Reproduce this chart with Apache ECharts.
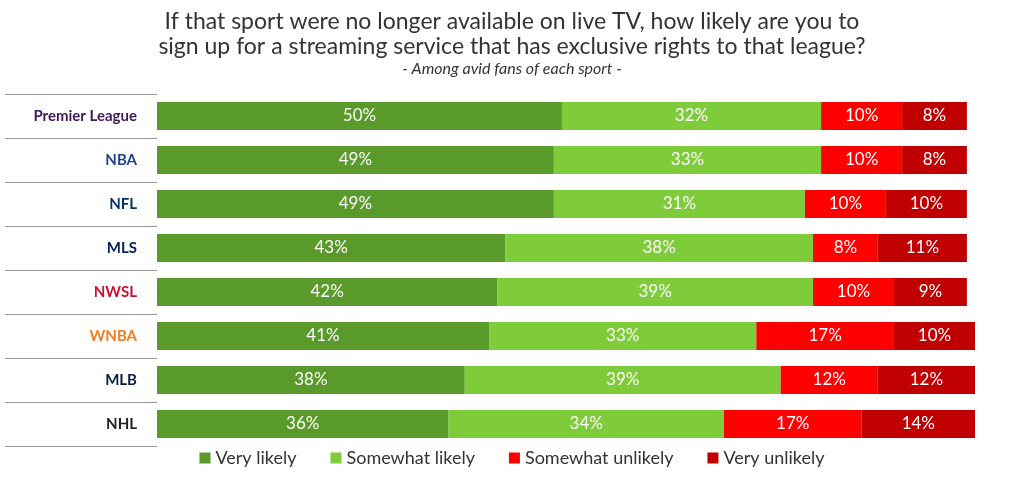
<!DOCTYPE html><html><head><meta charset="utf-8"><script src="https://cdn.jsdelivr.net/npm/echarts@6/dist/echarts.min.js"></script></head><body style="margin:0"><div id="c" style="width:1024px;height:486px"></div><script>
const categories=["Premier League","NBA","NFL","MLS","NWSL","WNBA","MLB","NHL"];
const veryLikely=[50,49,49,43,42,41,38,36];
const somewhatLikely=[32,33,31,38,39,33,39,34];
const somewhatUnlikely=[10,10,10,8,10,17,12,17];
const veryUnlikely=[8,8,10,11,9,10,12,14];
const labelColors={"Premier League":"#3d185c","NBA":"#1d428a","NFL":"#013369","MLS":"#001f5b","NWSL":"#c8102e","WNBA":"#f57b20","MLB":"#041e42","NHL":"#222"};
const chart=echarts.init(document.getElementById('c'));
const mk=(name,data,color)=>({name,type:'bar',stack:'a',data,barWidth:28,itemStyle:{color},
 label:{show:true,position:'inside',color:'#fff',fontSize:17,fontFamily:'Lato',formatter:'{c}%'}});
chart.setOption({
 title:{text:'If that sport were no longer available on live TV, how likely are you to\nsign up for a streaming service that has exclusive rights to that league?',
  subtext:'- Among avid fans of each sport -',left:'center',top:4,itemGap:2,
  textStyle:{fontSize:23,fontWeight:'normal',color:'#333',fontFamily:'Lato',lineHeight:25},
  subtextStyle:{fontSize:16,fontStyle:'italic',color:'#333',fontFamily:'Lato'}},
 legend:{bottom:14,left:'center',itemWidth:11,itemHeight:11,itemGap:34,icon:'rect',
  textStyle:{fontSize:18,color:'#333',fontFamily:'Lato'}},
 grid:{left:157,right:49,top:94,bottom:40},
 xAxis:{type:'value',max:101,show:false},
 yAxis:{type:'category',data:categories,inverse:true,axisLine:{show:false},
  axisTick:{show:true,length:152,lineStyle:{color:'#999'}},
  axisLabel:{margin:20,fontSize:15,fontWeight:'bold',fontFamily:'Lato',
   formatter:v=>'{'+categories.indexOf(v)+'|'+v+'}',
   rich:Object.fromEntries(categories.map((c,i)=>[i,{color:labelColors[c],fontWeight:'bold',fontSize:15}]))}},
 series:[mk('Very likely',veryLikely,'#5a9a2a'),mk('Somewhat likely',somewhatLikely,'#7fcc3a'),
  mk('Somewhat unlikely',somewhatUnlikely,'#ff0000'),mk('Very unlikely',veryUnlikely,'#c00000')]
});
</script></body></html>
